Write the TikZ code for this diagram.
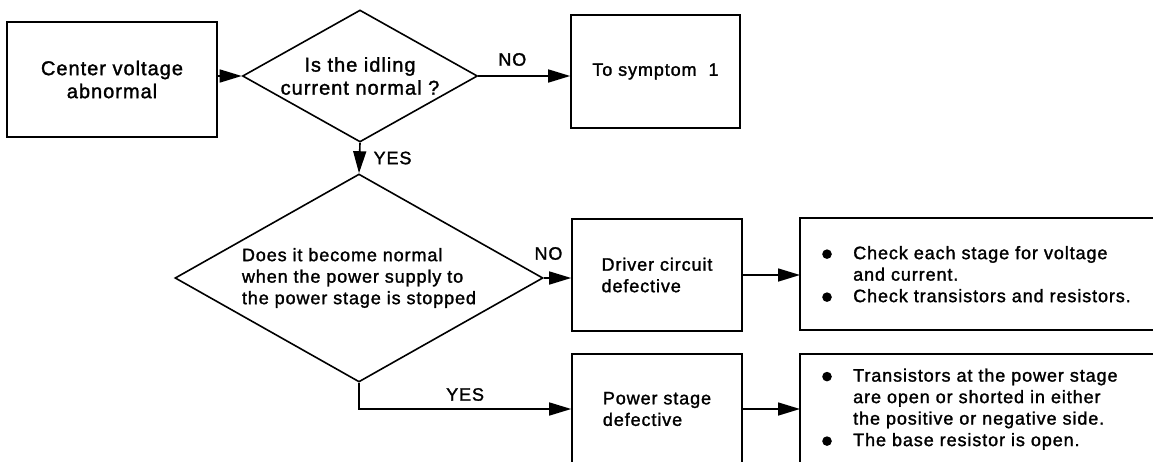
\documentclass[tikz,border=0pt]{standalone}
\usepackage{fontspec}
\setmainfont{Liberation Sans}[LetterSpace=5, FakeBold=1.5]
\usepackage{tikz}
\usetikzlibrary{shapes,arrows}
\usetikzlibrary{arrows.meta}
\newcommand{\blt}{\makebox[31pt][l]{\tikz[baseline=-5pt]\fill (0,0) circle (4.8pt);}}

\begin{document}
\begin{tikzpicture}[x=1pt, y=-1pt, line width=1.6pt,
	>={Triangle[length=22pt,width=13pt]},
	nodes={font=\fontsize{18}{21.5}\selectfont},
	box/.style={draw, rectangle, inner sep=0pt, align=center},
	decision/.style={draw, diamond, aspect=1.78, inner sep=0pt, align=center},
	note/.style={draw, rectangle, anchor=north west, inner xsep=22pt,
	inner ysep=0pt, text width=376pt, align=left}]
	\useasboundingbox (0,0) rectangle (1153,461);
	\clip (0,0) rectangle (1153,461);
	\node[box, minimum width=210pt, minimum height=115pt, font=\fontsize{20}{23}\selectfont] (cva) at (112,79.5) {Center voltage\\abnormal};
	\node[decision, minimum width=235pt, minimum height=132pt, font=\fontsize{20}{23}\selectfont] (idle) at (360,76) {Is the idling\\current normal ?};
	\node[box, minimum width=169pt, minimum height=113pt] (sym) at (655.5,71.5) {To symptom\hspace{12pt}1};
	\node[decision, minimum width=368pt, minimum height=208pt, align=left] (stop) at (359,278) {Does it become normal\\when the power supply to\\the power stage is stopped};
	\node[box, minimum width=170pt, minimum height=112pt, align=left] (drv) at (657,275) {Driver circuit\\defective};
	\node[box, minimum width=170pt, minimum height=110pt, align=left] (pwr) at (657,409) {Power stage\\defective};
	\node[note, minimum height=112pt] (chkdrv) at (800,218) {\blt Check each stage for voltage\\\hspace*{31pt}and current.\\\blt Check transistors and resistors.};
	\node[note, minimum height=110pt] (chkpwr) at (800,354) {\blt Transistors at the power stage\\\hspace*{31pt}are open or shorted in either\\\hspace*{31pt}the positive or negative side.\\\blt The base resistor is open.};
	\draw[->] (cva.east |- idle.west) -- (idle.west);
	\draw[->] (idle.east) -- node[pos=.37, above=6pt] {NO} (idle.east -| sym.west);
	\draw[->] (idle.south) -- node[right=10pt] {YES} (stop.north);
	\draw[->] (stop.east) -- node[pos=.17, above=14pt] {NO} (stop.east -| drv.west);
	\draw[->] (stop.south) |- node[pos=.75, above=4pt] {YES} (pwr.west);
	\draw[->] (drv.east) -- (drv.east -| chkdrv.west);
	\draw[->] (pwr.east) -- (pwr.east -| chkpwr.west);
\end{tikzpicture}
\end{document}
